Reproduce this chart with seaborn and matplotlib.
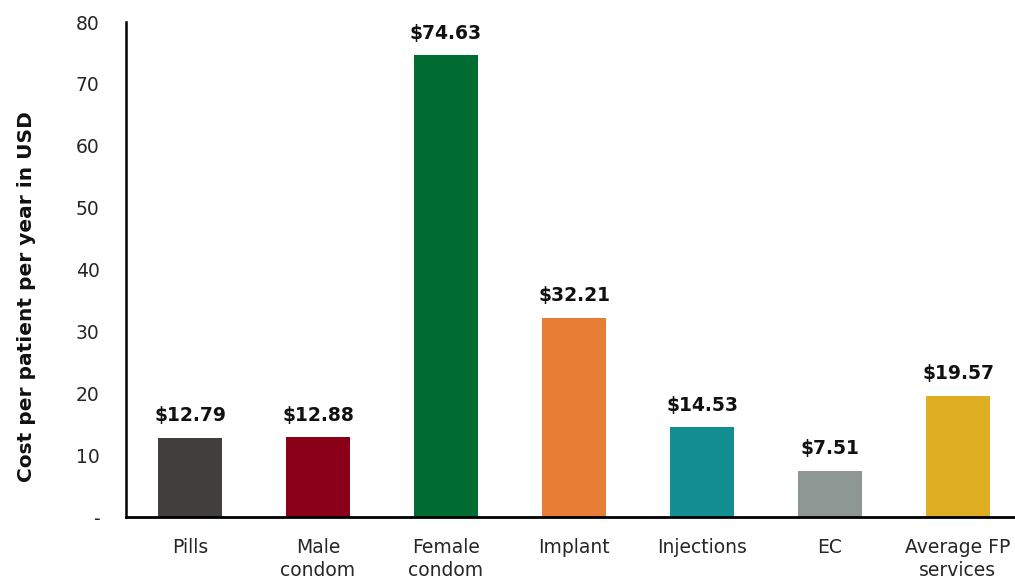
import matplotlib
matplotlib.use("Agg")
import matplotlib.pyplot as plt
import seaborn as sns
import pandas as pd

categories = ["Pills", "Male\ncondom", "Female\ncondom", "Implant", "Injections", "EC", "Average FP\nservices"]
costs = [12.79, 12.88, 74.63, 32.21, 14.53, 7.51, 19.57]
colors = ["#433F3E", "#8B0019", "#006C31", "#E77E36", "#138E90", "#8E9794", "#DFAE22"]
y_ticks = [0, 10, 20, 30, 40, 50, 60, 70, 80]
y_tick_labels = ["-", "10", "20", "30", "40", "50", "60", "70", "80"]

df = pd.DataFrame({"method": categories, "cost": costs})

sns.set_theme(style="white")
plt.rcParams["font.family"] = ["DejaVu Sans"]

fig = plt.figure(figsize=(10.15, 5.8), dpi=100)
ax = fig.add_axes([126 / 1015, 63 / 580, 896 / 1015, 495 / 580])

sns.barplot(data=df, x="method", y="cost", hue="method", palette=colors,
            legend=False, width=0.5, saturation=1, linewidth=0, ax=ax)

ax.set_xlim(-0.5, 6.5)
ax.set_ylim(0, 80)
ax.set_yticks(y_ticks)
ax.set_yticklabels(y_tick_labels, fontsize=13.5, color="#262626")
ax.tick_params(axis="x", labelsize=13.5, pad=15, length=0, colors="#262626")
ax.tick_params(axis="y", pad=19, length=0)
for lbl in ax.get_xticklabels():
    lbl.set_linespacing(1.3)

ax.set_xlabel("")
ax.set_ylabel("Cost per patient per year in USD", fontsize=14.5, fontweight="bold",
              color="#111111")
ax.yaxis.set_label_coords(-0.1105, 0.446)
ax.yaxis.label.set_va("center")

for side in ["top", "right"]:
    ax.spines[side].set_visible(False)
ax.spines["left"].set_color("black")
ax.spines["left"].set_linewidth(1.8)
ax.spines["bottom"].set_color("black")
ax.spines["bottom"].set_linewidth(2.0)

for i, v in enumerate(costs):
    ax.annotate(f"${v:.2f}", xy=(i, v), xytext=(0, 9), textcoords="offset points",
                ha="center", va="bottom", fontsize=13.5, fontweight="bold", color="#111111")

fig.savefig("out.png", dpi=100)
